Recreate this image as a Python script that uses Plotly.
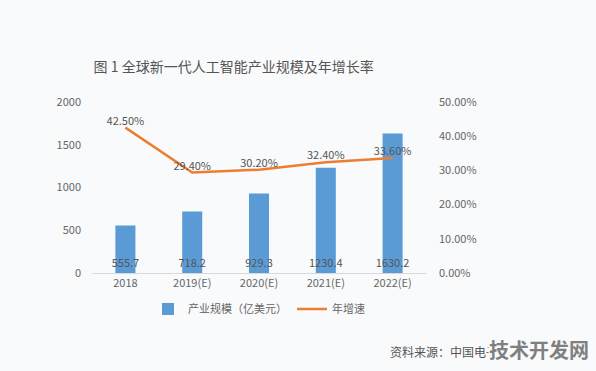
import plotly.graph_objects as go

categories = ["2018", "2019(E)", "2020(E)", "2021(E)", "2022(E)"]
scale_values = [555.7, 718.2, 929.3, 1230.4, 1630.2]
growth_values = [0.425, 0.294, 0.302, 0.324, 0.336]
left_ticks = [0, 500, 1000, 1500, 2000]
right_ticks = [0, 0.1, 0.2, 0.3, 0.4, 0.5]

FONT = "Noto Sans CJK SC"
BG = "#f9fafb"

fig = go.Figure()
fig.add_trace(go.Bar(
    x=categories, y=scale_values, name="产业规模（亿美元）",
    marker=dict(color="#5b9bd5", line=dict(width=0)),
    width=0.3,
    text=[f"{v:.1f}" for v in scale_values],
    textposition="inside", insidetextanchor="start", textangle=0,
    constraintext="none",
    textfont=dict(color="#555555", size=11, family=FONT),
    cliponaxis=False,
))
fig.add_trace(go.Scatter(
    x=categories, y=growth_values, name="年增速", yaxis="y2",
    mode="lines+text",
    line=dict(color="#ed7d31", width=2.5),
    text=[f"{v*100:.2f}%" for v in growth_values],
    textposition="top center",
    textfont=dict(color="#555555", size=11, family=FONT),
    cliponaxis=False,
))

fig.update_layout(
    width=596, height=371,
    paper_bgcolor=BG, plot_bgcolor=BG,
    margin=dict(l=92, r=170, t=102, b=98),
    font=dict(family=FONT, color="#666666", size=11),
    title=dict(text="图 1 全球新一代人工智能产业规模及年增长率",
               x=0.392, xanchor="center", y=0.82, yanchor="middle",
               font=dict(size=14, color="#555555", family=FONT)),
    xaxis=dict(showgrid=False, showline=True, linecolor="#d9d9d9", linewidth=1,
               ticks="", tickfont=dict(size=11, color="#666666")),
    yaxis=dict(range=[0, 2000], tickvals=left_ticks, showgrid=False,
               zeroline=False, showline=False, ticklabelstandoff=10,
               tickfont=dict(size=11, color="#666666")),
    yaxis2=dict(range=[0, 0.5], tickvals=right_ticks,
                ticktext=[f"{v*100:.2f}%" for v in right_ticks],
                overlaying="y", side="right", showgrid=False, zeroline=False,
                showline=False, ticklabelstandoff=12,
                tickfont=dict(size=11, color="#666666")),
    legend=dict(orientation="h", x=0.5, xanchor="center", y=-0.21, yanchor="middle",
                bgcolor="rgba(0,0,0,0)", font=dict(size=11, color="#666666"),
                itemwidth=30),
    showlegend=True,
    bargap=0.7,
)

fig.add_annotation(text="资料来源：中国电子学会", xref="paper", yref="paper",
                   x=0.885, y=-0.46, xanchor="left", yanchor="middle", showarrow=False,
                   font=dict(size=12, color="#555555", family=FONT))
fig.add_annotation(text="<b>技术开发网</b>", xref="paper", yref="paper",
                   x=1.49, y=-0.45, xanchor="right", yanchor="middle", showarrow=False,
                   bgcolor=BG, borderpad=0,
                   font=dict(size=20, color="#808080", family=FONT))

fig.write_html("out.html", config={"displayModeBar": False},
               post_script="document.body.style.margin='0';document.body.style.padding='0';document.body.style.background='%s';" % BG)
